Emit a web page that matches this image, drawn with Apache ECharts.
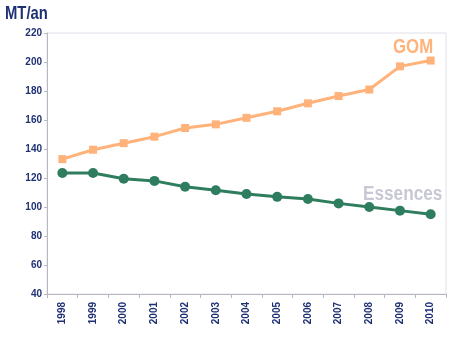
<!DOCTYPE html>
<html><head><meta charset="utf-8">
<script src="https://cdn.jsdelivr.net/npm/echarts@6/dist/echarts.min.js"></script>
<style>html,body{margin:0;padding:0;background:#fff}#c{width:461px;height:338px}</style>
</head><body><div id="c"></div>
<script>
const years = ['1998','1999','2000','2001','2002','2003','2004','2005','2006','2007','2008','2009','2010'];
const gom = [133, 139.5, 144, 148.5, 154.5, 157, 161.5, 166, 171.5, 176.5, 181, 197, 201];
const essences = [123.5, 123.5, 119.5, 118, 114, 111.5, 109, 107, 105.5, 102.5, 100, 97.5, 95];
const yTicks = {min: 40, max: 220, interval: 20};
const navy = '#1f3174';
const chart = echarts.init(document.getElementById('c'));
chart.setOption({
  animation: false,
  backgroundColor: '#fff',
  grid: {left: 47, right: 15, top: 33, bottom: 44, show: true, borderColor: '#e2e2ea', borderWidth: 1},
  xAxis: {type: 'category', data: years, boundaryGap: true,
    axisLine: {lineStyle: {color: '#b8b8c4'}},
    axisTick: {show: true, interval: 0, length: 4, lineStyle: {color: '#b8b8c4'}},
    axisLabel: {rotate: 90, interval: 0, margin: 8, color: navy, fontFamily: 'Liberation Sans', fontSize: 10, fontWeight: 'bold'}},
  yAxis: {type: 'value', min: yTicks.min, max: yTicks.max, interval: yTicks.interval,
    axisLine: {show: true, lineStyle: {color: '#b8b8c4'}},
    axisTick: {show: true, length: 3, lineStyle: {color: '#b8b8c4'}},
    splitLine: {show: false},
    axisLabel: {margin: 5, color: navy, fontFamily: 'Liberation Sans', fontSize: 10, fontWeight: 'bold'}},
  series: [
    {name: 'GOM', type: 'line', data: gom, symbol: 'rect', symbolSize: 8,
      lineStyle: {color: '#ffb27a', width: 3}, itemStyle: {color: '#ffb27a'}},
    {name: 'Essences', type: 'line', data: essences, symbol: 'circle', symbolSize: 10,
      lineStyle: {color: '#2e7d5e', width: 3}, itemStyle: {color: '#2e7d5e'}}
  ],
  graphic: [
    {type: 'text', x: 5, y: 4, scaleX: 0.78, style: {text: 'MT/an', fill: navy, font: 'bold 19px "Liberation Sans"', textVerticalAlign: 'top'}},
    {type: 'text', x: 393, y: 37, scaleX: 0.84, style: {text: 'GOM', fill: '#ffb27a', font: 'bold 20px "Liberation Sans"', textVerticalAlign: 'top'}},
    {type: 'text', x: 363, y: 184, scaleX: 0.86, style: {text: 'Essences', fill: '#c8c8d4', font: 'bold 20px "Liberation Sans"', textVerticalAlign: 'top'}}
  ]
});
</script></body></html>
